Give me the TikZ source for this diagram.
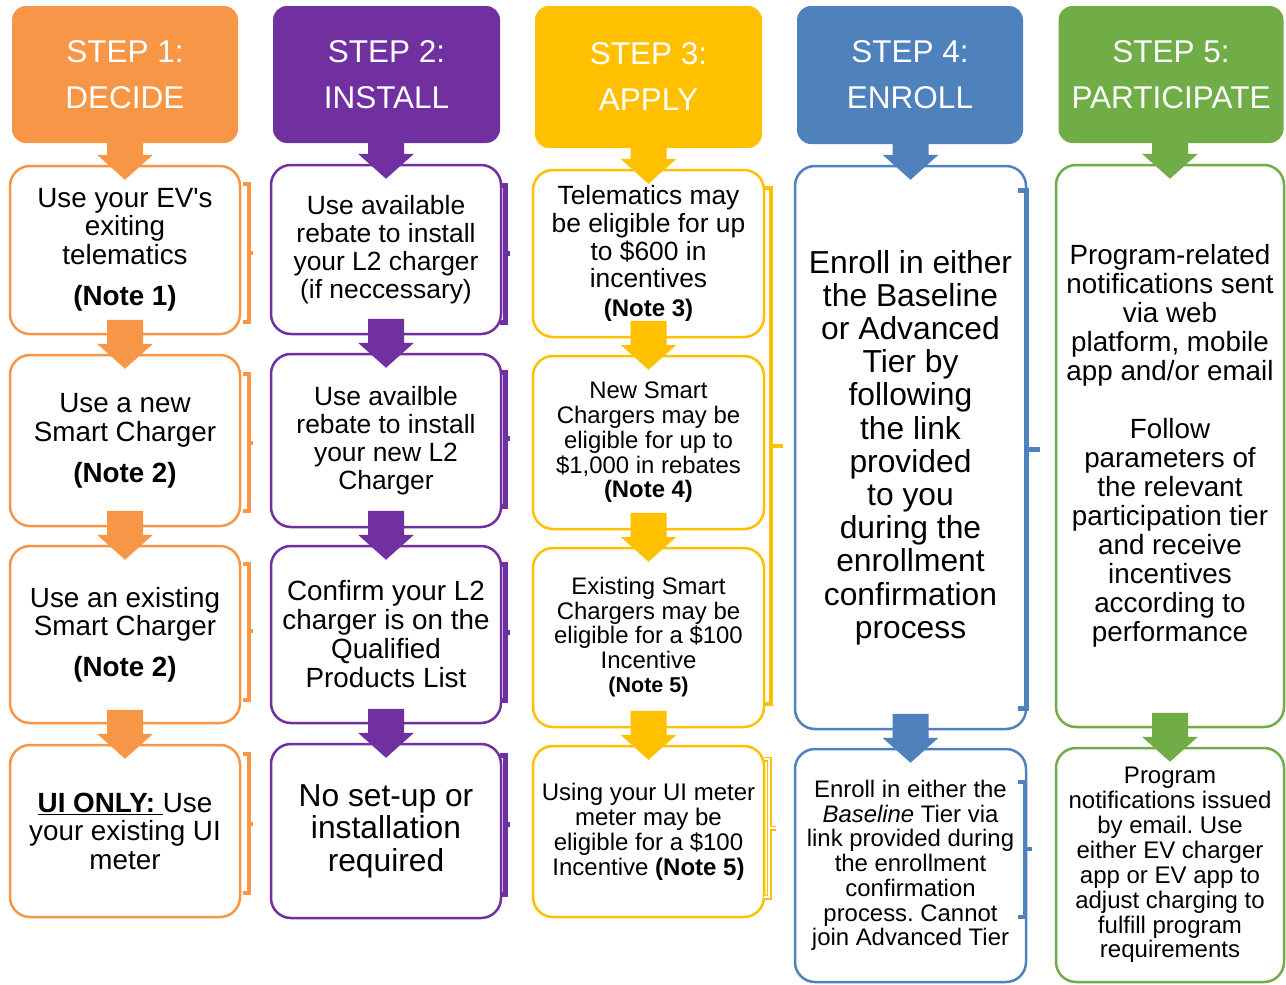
\documentclass[tikz,border=0pt]{standalone}
\usepackage{fontspec}
\setmainfont{Liberation Sans}
\usetikzlibrary{calc}
\frenchspacing
\definecolor{corange}{HTML}{F79646}
\definecolor{cpurple}{HTML}{7030A0}
\definecolor{cyellow}{HTML}{FFC000}
\definecolor{cblue}{HTML}{4F81BD}
\definecolor{cgreen}{HTML}{70AD47}
\newcommand\fs[2]{\fontsize{#1}{#2}\selectfont}
\newcommand\blkarrow[3]{\fill[#3] ($(#2.north)+(0,15)$) -- ++(-28,-25) -- ++(10,0) -- ++(0,-24) -- ++(36,0) -- ++(0,24) -- ++(10,0) -- cycle;}
\begin{document}
\begin{tikzpicture}[x=1pt,y=-1pt,
  header/.style={fill=#1, rounded corners=14pt, text=white, align=center, font=\fs{31.5}{46}, inner sep=0pt},
  card/.style={draw=#1, fill=white, line width=2.5pt, rounded corners=20pt, align=center, inner sep=0pt},
  brk/.style={draw=#1, line width=4pt, line join=miter},
]
\useasboundingbox[fill=white] (0,0) rectangle (1286,985);

% ---------- headers
\node[header=corange, minimum width=226pt, minimum height=137pt] (h1) at (125,74.5) {STEP 1:\\DECIDE};
\node[header=cpurple, minimum width=227pt, minimum height=137pt] (h2) at (386.5,74.5) {STEP 2:\\INSTALL};
\node[header=cyellow, minimum width=227pt, minimum height=142pt] (h3) at (648.5,77) {STEP 3:\\APPLY};
\node[header=cblue, minimum width=226pt, minimum height=138pt] (h4) at (910,75) {STEP 4:\\ENROLL};
\node[header=cgreen, minimum width=225pt, minimum height=137pt] (h5) at (1171,74.5) {STEP 5:\\PARTICIPATE};

% ---------- column 1
\node[card=corange, minimum width=230pt, minimum height=168pt, font=\fs{27.8}{28.5}] (a1) at (125,250)
  {Use your EV\textquotesingle s\\exiting\\telematics\\[13pt]\textbf{(Note 1)}};
\node[card=corange, minimum width=230pt, minimum height=171pt, font=\fs{27.8}{29}] (a2) at (125,440.5)
  {Use a new\\Smart Charger\\[12pt]\textbf{(Note 2)}};
\node[card=corange, minimum width=230pt, minimum height=177pt, font=\fs{27.8}{28.5}] (a3) at (125,634.5)
  {Use an existing\\Smart Charger\\[12pt]\textbf{(Note 2)}};
\node[card=corange, minimum width=230pt, minimum height=172pt, font=\fs{27.8}{28.5}] (a4) at (125,831)
  {\underline{\textbf{UI ONLY:}\ }Use\\your existing UI\\meter};

% ---------- column 2
\node[card=cpurple, minimum width=230pt, minimum height=169pt, font=\fs{26.4}{27.8}] (b1) at (386,249.5)
  {Use available\\rebate to install\\your L2 charger\\(if neccessary)};
\node[card=cpurple, minimum width=230pt, minimum height=173pt, font=\fs{26.4}{28}] (b2) at (386,440.5)
  {Use availble\\rebate to install\\your new L2\\Charger};
\node[card=cpurple, minimum width=230pt, minimum height=177pt, font=\fs{27.8}{29}] (b3) at (386,634.5)
  {Confirm your L2\\charger is on the\\Qualified\\Products List};
\node[card=cpurple, minimum width=230pt, minimum height=174pt, font=\fs{31.75}{32.5}] (b4) at (386,831)
  {No set-up or\\installation\\required};

% ---------- column 3
\node[card=cyellow, minimum width=231pt, minimum height=167pt, font=\fs{26.4}{27.7}] (c1) at (648.5,253.5)
  {Telematics may\\be eligible for up\\to \$600 in\\incentives\\[1pt]{\fs{24}{27.7}\textbf{(Note 3)}}};
\node[card=cyellow, minimum width=231pt, minimum height=173pt, font=\fs{23.9}{24.7}] (c2) at (648.5,442.5)
  {New Smart\\Chargers may be\\eligible for up to\\\$1,000 in rebates\\\textbf{(Note 4)}};
\node[card=cyellow, minimum width=231pt, minimum height=179pt, font=\fs{23.9}{24.5}] (c3) at (648.5,637.5)
  {Existing Smart\\Chargers may be\\eligible for a \$100\\Incentive\\{\fs{21.5}{24.5}\textbf{(Note 5)}}};
\node[card=cyellow, minimum width=231pt, minimum height=171pt, font=\fs{24}{25}] (c4) at (648.5,831.5)
  {Using your UI meter\\meter may be\\eligible for a \$100\\Incentive \textbf{(Note 5)}};

% ---------- column 4
\node[card=cblue, minimum width=231pt, minimum height=563pt, font=\fs{31.8}{33.2}] (d1) at (910.5,447.5)
  {Enroll in either\\the Baseline\\or Advanced\\Tier by\\following\\the link\\provided\\to you\\during the\\enrollment\\confirmation\\process};
\node[card=cblue, minimum width=231pt, minimum height=233pt, font=\fs{23.9}{24.7}] (d2) at (910.5,865.5)
  {Enroll in either the\\\textit{Baseline} Tier via\\link provided during\\the enrollment\\confirmation\\process. Cannot\\join Advanced Tier};

% ---------- column 5
\node[card=cgreen, minimum width=228pt, minimum height=562pt, font=\fs{27.8}{29}] (e1) at (1170,446)
  {Program-related\\notifications sent\\via web\\platform, mobile\\app and/or email\\[29pt]Follow\\parameters of\\the relevant\\participation tier\\and receive\\incentives\\according to\\performance};
\node[card=cgreen, minimum width=228pt, minimum height=234pt, font=\fs{24}{24.9}] (e2) at (1170,865)
  {Program\\notifications issued\\by email. Use\\either EV charger\\app or EV app to\\adjust charging to\\fulfill program\\requirements};

% ---------- block arrows
\blkarrow{h1}{a1}{corange}
\blkarrow{a1}{a2}{corange}
\blkarrow{a2}{a3}{corange}
\blkarrow{a3}{a4}{corange}
\blkarrow{h2}{b1}{cpurple}
\blkarrow{b1}{b2}{cpurple}
\blkarrow{b2}{b3}{cpurple}
\blkarrow{b3}{b4}{cpurple}
\blkarrow{h3}{c1}{cyellow}
\blkarrow{c1}{c2}{cyellow}
\blkarrow{c2}{c3}{cyellow}
\blkarrow{c3}{c4}{cyellow}
\blkarrow{h4}{d1}{cblue}
\blkarrow{d1}{d2}{cblue}
\blkarrow{h5}{e1}{cgreen}
\blkarrow{e1}{e2}{cgreen}

% ---------- brackets
\draw[brk=corange] (243,184) -- (249,184) -- (249,322) -- (243,322) (249,253) -- (253,253);
\draw[brk=corange] (243,374) -- (249,374) -- (249,511) -- (243,511) (249,443) -- (253,443);
\draw[brk=corange] (243,564) -- (249,564) -- (249,700) -- (243,700) (249,631) -- (253,631);
\draw[brk=corange] (243,754) -- (249,754) -- (249,893) -- (243,893) (249,824) -- (253,824);

\draw[brk=cpurple, line width=5pt] (500,185) -- (505,185) -- (505,322) -- (500,322) (505,253) -- (510,253);
\draw[brk=cpurple, line width=5pt] (500,372) -- (505,372) -- (505,506) -- (500,506) (505,438) -- (510,438);
\draw[brk=cpurple, line width=5pt] (500,564) -- (505,564) -- (505,700) -- (500,700) (505,632) -- (510,632);
\draw[brk=cpurple, line width=5pt] (500,755) -- (505,755) -- (505,894) -- (500,894) (505,824) -- (510,824);

\draw[brk=cyellow] (764,188) -- (771,188) -- (771,704) -- (764,704) (771,446) -- (783,446);
\draw[draw=cyellow, line width=1.5pt, double=white, double distance=2pt] (764,759) -- (769,759) -- (769,897) -- (764,897) (769,828) -- (776,828);

\draw[brk=cblue, line width=5pt] (1018,190) -- (1026,190) -- (1026,708) -- (1018,708) (1026,449) -- (1040,449);
\draw[brk=cblue] (1018,782) -- (1025,782) -- (1025,917) -- (1018,917) (1025,849) -- (1032,849);
\end{tikzpicture}
\end{document}
